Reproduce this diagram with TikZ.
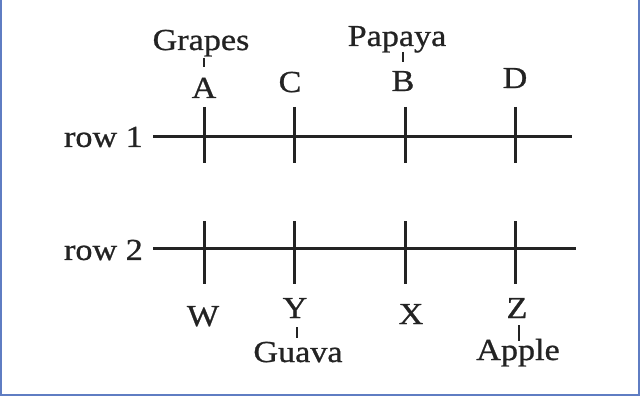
\documentclass[tikz,border=0pt]{standalone}
\usepackage{fontspec}
\setmainfont{Liberation Serif}[FakeStretch=1.12, FakeBold=0.8]
\definecolor{frame}{RGB}{95,125,195}
\definecolor{ink}{RGB}{35,35,35}
\tikzset{
  lbl/.style={font=\fontsize{30.5}{30.5}\selectfont, text=ink, inner sep=0pt, anchor=base},
  axis/.style={line width=3pt, draw=ink},
  tick/.style={line width=3pt, draw=ink},
  stub/.style={line width=1.8pt, draw=ink},
}
\begin{document}
\begin{tikzpicture}[x=1pt,y=-1pt]
\useasboundingbox (0,0) rectangle (641,396);
\fill[white] (0,0) rectangle (641,396);
\draw[frame, line width=2pt] (1,0) -- (1,395) -- (639,395) -- (639,0);
% row labels
\node[lbl, anchor=east] (r1) at (143,137) {row 1};
\node[lbl, anchor=east] (r2) at (143,250) {row 2};
% axes
\coordinate (r1s) at (153,137); \coordinate (r1e) at (572,137);
\coordinate (r2s) at (153,248); \coordinate (r2e) at (576,248);
\draw[axis] (r1s) -- (r1e);
\draw[axis] (r2s) -- (r2e);
% ticks row 1
\foreach \n/\x in {tA/204,tC/294,tB/405,tD/515}{
  \coordinate (\n t) at (\x,107); \coordinate (\n b) at (\x,163);
  \draw[tick] (\n t) -- (\n b);
}
\foreach \n/\x in {tW/204,tY/294,tX/405,tZ/515}{
  \coordinate (\n t) at (\x,221); \coordinate (\n b) at (\x,284);
  \draw[tick] (\n t) -- (\n b);
}
% top labels
\node[lbl] (A) at (204,98) {A};
\node[lbl] (C) at (290,92) {C};
\node[lbl] (B) at (403,91) {B};
\node[lbl] (D) at (515,88) {D};
\node[lbl] (grapes) at (201,50) {Grapes};
\node[lbl] (papaya) at (397,46) {Papaya};
\draw[stub] (204,58) -- (204,67);
\draw[stub] (403,52) -- (403,62);
% bottom labels
\node[lbl] (W) at (203,326) {W};
\node[lbl] (Y) at (295,318) {Y};
\node[lbl] (X) at (411,324) {X};
\node[lbl] (Z) at (517,318) {Z};
\node[lbl] (guava) at (298,362) {Guava};
\node[lbl] (apple) at (518,360) {Apple};
\draw[stub] (297,327) -- (297,338);
\draw[stub] (519,325) -- (519,341);
\end{tikzpicture}
\end{document}
